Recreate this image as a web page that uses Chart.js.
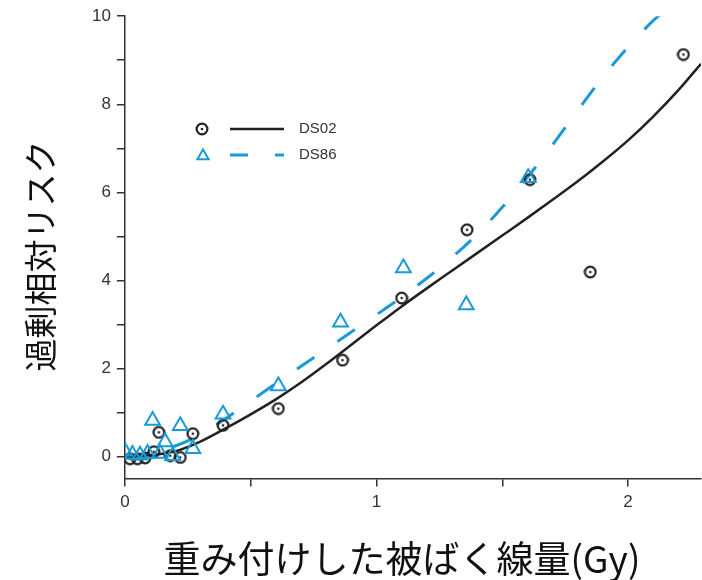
<!DOCTYPE html>
<html>
<head>
<meta charset="utf-8">
<script src="https://cdn.jsdelivr.net/npm/chart.js@4.4.1/dist/chart.umd.min.js"></script>
<style>
  html, body { margin: 0; padding: 0; background: #fff; }
</style>
</head>
<body>
<canvas id="chart" width="702" height="580"></canvas>
<script>
// ── data ──────────────────────────────────────────────────────────────────────

var ds02Dose = [0.02, 0.05, 0.08, 0.115, 0.135, 0.18, 0.22, 0.27, 0.39, 0.61, 0.865, 1.10, 1.36, 1.61, 1.85, 2.22];
var ds02Err  = [-0.05, -0.05, -0.03, 0.11, 0.55, 0.02, -0.02, 0.52, 0.71, 1.09, 2.19, 3.60, 5.15, 6.29, 4.19, 9.13];

var ds86Dose = [0.0, 0.03, 0.06, 0.09, 0.11, 0.14, 0.16, 0.19, 0.22, 0.27, 0.39, 0.61, 0.857, 1.107, 1.357, 1.603];
var ds86Err  = [0.12, 0.05, 0.03, 0.07, 0.82, 0.07, 0.33, 0.02, 0.70, 0.18, 0.96, 1.60, 3.05, 4.28, 3.44, 6.33];

var ds02FitDose = [0, 0.1, 0.2, 0.3, 0.4, 0.5, 0.6, 0.7, 0.8, 0.9, 1.0, 1.1, 1.2, 1.3, 1.4, 1.5, 1.6, 1.7, 1.8, 1.9, 2.0, 2.1, 2.2, 2.29];
var ds02FitErr  = [0, 0.03, 0.12, 0.34, 0.64, 0.96, 1.3, 1.68, 2.1, 2.54, 2.98, 3.41, 3.82, 4.22, 4.62, 5.02, 5.42, 5.83, 6.25, 6.7, 7.18, 7.72, 8.32, 8.92];

var ds86FitDose = [0, 0.1, 0.2, 0.3, 0.4, 0.5, 0.6, 0.7, 0.8, 0.9, 1.0, 1.1, 1.2, 1.3, 1.4, 1.5, 1.6, 1.7, 1.8, 1.9, 2.0, 2.1, 2.13];
var ds86FitErr  = [0, 0.08, 0.24, 0.5, 0.86, 1.26, 1.66, 2.05, 2.44, 2.83, 3.22, 3.62, 4.05, 4.52, 5.05, 5.66, 6.34, 7.08, 7.86, 8.62, 9.3, 9.9, 10.05];

var xTicks  = [0, 0.5, 1, 1.5, 2];
var xLabels = ["0", "", "1", "", "2"];
var yTicks  = [0, 1, 2, 3, 4, 5, 6, 7, 8, 9, 10];
var yLabels = ["0", "", "2", "", "4", "", "6", "", "8", "", "10"];

var xTitle = "重み付けした被ばく線量(Gy)";
var yTitle = "過剰相対リスク";
var legendNames = ["DS02", "DS86"];

// ── helpers ───────────────────────────────────────────────────────────────────

var BLUE = "#1b9ad8";
var INK  = "#222";

function pairs(xs, ys) {
  return xs.map(function(x, i) { return { x: x, y: ys[i] }; });
}

function circleMarker(size) {
  var c = document.createElement("canvas");
  c.width = size; c.height = size;
  var g = c.getContext("2d");
  var m = size / 2;
  g.strokeStyle = INK;
  g.lineWidth = 2.2;
  g.beginPath(); g.arc(m, m, m - 1.6, 0, Math.PI * 2); g.stroke();
  g.fillStyle = INK;
  g.beginPath(); g.arc(m, m, 1.3, 0, Math.PI * 2); g.fill();
  return c;
}

var circleImg = circleMarker(14);

// ── overlay: axis titles + legend ─────────────────────────────────────────────

var overlay = {
  id: "overlay",
  afterDraw: function(c) {
    var ctx = c.ctx;
    ctx.save();
    ctx.fillStyle = "#111";
    ctx.textAlign = "center";
    ctx.textBaseline = "middle";
    ctx.font = "37px 'Noto Sans CJK JP'";
    ctx.fillText(xTitle, 402, 559);
    ctx.translate(40, 256);
    ctx.rotate(-Math.PI / 2);
    ctx.font = "33px 'Noto Sans CJK JP'";
    ctx.fillText(yTitle, 0, 0);
    ctx.restore();

    // legend
    ctx.save();
    ctx.drawImage(circleImg, 202 - 7, 129 - 7);
    ctx.strokeStyle = INK;
    ctx.lineWidth = 2.5;
    ctx.beginPath(); ctx.moveTo(230, 129); ctx.lineTo(284, 129); ctx.stroke();

    ctx.strokeStyle = BLUE;
    ctx.lineWidth = 2;
    var tx = 203, ty = 156, r = 6.5;
    ctx.beginPath();
    ctx.moveTo(tx, ty - r);
    ctx.lineTo(tx + r * 0.866, ty + r * 0.5);
    ctx.lineTo(tx - r * 0.866, ty + r * 0.5);
    ctx.closePath();
    ctx.stroke();
    ctx.lineWidth = 3;
    ctx.setLineDash([18, 27]);
    ctx.beginPath(); ctx.moveTo(230, 155); ctx.lineTo(284, 155); ctx.stroke();
    ctx.setLineDash([]);

    ctx.font = "15px 'Liberation Sans', Arial";
    ctx.fillStyle = "#333";
    ctx.textBaseline = "middle";
    ctx.fillText(legendNames[0], 299, 129);
    ctx.fillText(legendNames[1], 299, 155);
    ctx.restore();
  }
};

// ── chart ─────────────────────────────────────────────────────────────────────

var axisGrid = { drawOnChartArea: false, drawTicks: true, tickLength: 8, color: "#333", lineWidth: 1.5 };
var axisBorder = { display: true, color: "#333", width: 1.5 };
var tickFont = { family: "'Liberation Sans', Arial", size: 17 };

new Chart(document.getElementById("chart"), {
  type: "scatter",
  data: {
    datasets: [
      {
        label: "DS02 fit",
        data: pairs(ds02FitDose, ds02FitErr),
        showLine: true,
        borderColor: INK,
        borderWidth: 2.5,
        pointRadius: 0,
        cubicInterpolationMode: "monotone",
        order: 2
      },
      {
        label: "DS86 fit",
        data: pairs(ds86FitDose, ds86FitErr),
        showLine: true,
        borderColor: BLUE,
        borderWidth: 3,
        borderDash: [21, 28],
        pointRadius: 0,
        cubicInterpolationMode: "monotone",
        order: 3
      },
      {
        label: "DS02",
        data: pairs(ds02Dose, ds02Err),
        pointStyle: circleImg,
        pointRadius: 7,
        order: 1
      },
      {
        label: "DS86",
        data: pairs(ds86Dose, ds86Err),
        pointStyle: "triangle",
        pointRadius: 8.5,
        borderColor: BLUE,
        borderWidth: 2,
        backgroundColor: "rgba(0,0,0,0)",
        order: 0
      }
    ]
  },
  options: {
    responsive: false,
    animation: false,
    layout: { autoPadding: false, padding: { left: 86, right: 1, top: 16, bottom: 61 } },
    plugins: {
      legend: { display: false },
      tooltip: { enabled: false }
    },
    scales: {
      x: {
        type: "linear",
        min: 0,
        max: 2.29,
        afterBuildTicks: function(s) { s.ticks = xTicks.map(function(v) { return { value: v }; }); },
        ticks: {
          color: "#333",
          font: tickFont,
          padding: 6,
          maxRotation: 0,
          callback: function(v) { return xLabels[xTicks.indexOf(v)]; }
        },
        grid: axisGrid,
        border: axisBorder
      },
      y: {
        type: "linear",
        min: -0.5,
        max: 10,
        afterBuildTicks: function(s) { s.ticks = yTicks.map(function(v) { return { value: v }; }); },
        ticks: {
          color: "#333",
          font: tickFont,
          padding: 6,
          callback: function(v) { return yLabels[yTicks.indexOf(v)]; }
        },
        grid: axisGrid,
        border: axisBorder
      }
    }
  },
  plugins: [overlay]
});
</script>
</body>
</html>
